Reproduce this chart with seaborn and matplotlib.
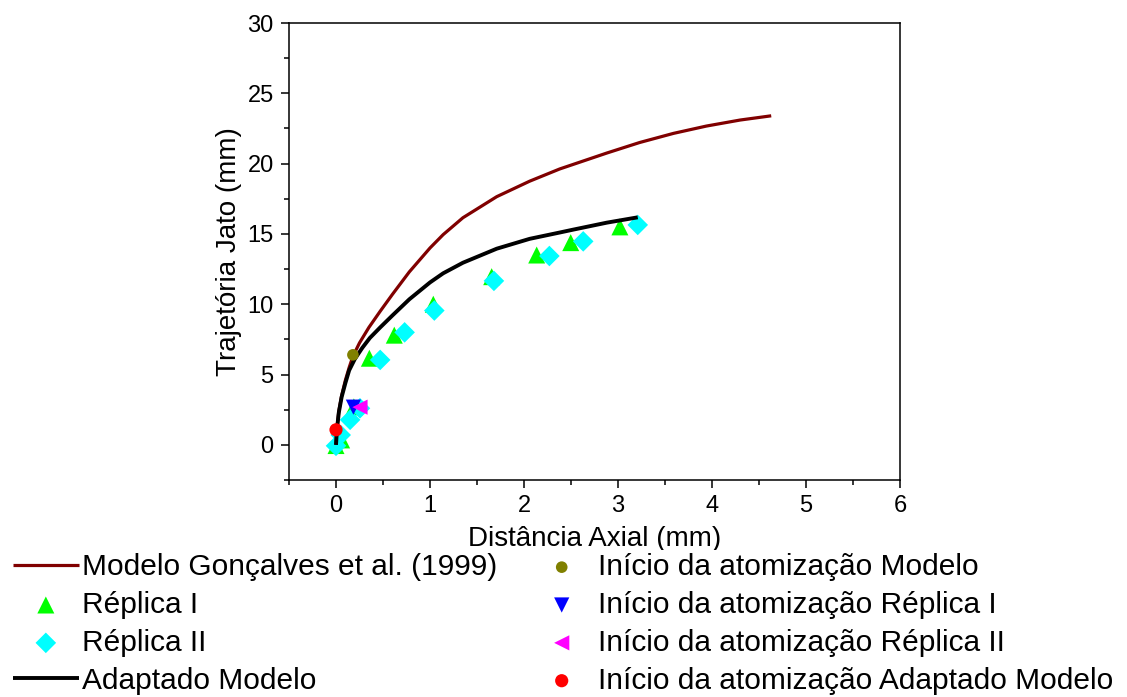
import matplotlib
matplotlib.use("Agg")
import matplotlib.pyplot as plt
from matplotlib.ticker import MultipleLocator
import seaborn as sns

# ---------------- data ----------------
modelo_x = [0.0, 0.01, 0.03, 0.06, 0.1, 0.14, 0.18, 0.25, 0.35, 0.47, 0.6,
            0.78, 1.0, 1.14, 1.35, 1.71, 2.06, 2.38, 2.88, 3.23, 3.59, 3.94,
            4.30, 4.63]
modelo_y = [0.0, 1.2, 2.4, 3.5, 4.6, 5.5, 6.3, 7.25, 8.35, 9.5, 10.7,
            12.3, 14.0, 14.95, 16.15, 17.65, 18.75, 19.62, 20.75, 21.5, 22.15,
            22.67, 23.1, 23.4]

adapt_x = [0.0, 0.01, 0.03, 0.06, 0.1, 0.14, 0.2, 0.28, 0.36, 0.47, 0.6,
           0.78, 1.0, 1.14, 1.35, 1.71, 2.06, 2.38, 2.52, 2.88, 3.21]
adapt_y = [0.0, 1.1, 2.3, 3.4, 4.4, 5.3, 6.1, 6.9, 7.6, 8.35, 9.2,
           10.35, 11.55, 12.2, 12.95, 13.95, 14.65, 15.1, 15.3, 15.8, 16.18]

rep1_x = [0.0, 0.06, 0.19, 0.355, 0.62, 1.035, 1.656, 2.135, 2.497, 3.02]
rep1_y = [-0.05, 0.35, 2.7, 6.16, 7.8, 10.0, 11.96, 13.5, 14.38, 15.5]

rep2_x = [0.0, 0.05, 0.15, 0.255, 0.47, 0.73, 1.046, 1.68, 2.27, 2.63, 3.21]
rep2_y = [-0.07, 0.7, 1.78, 2.6, 6.04, 8.0, 9.55, 11.66, 13.43, 14.47, 15.64]

inicio_modelo_x, inicio_modelo_y = [0.18], [6.4]
inicio_rep1_x, inicio_rep1_y = [0.185], [2.68]
inicio_rep2_x, inicio_rep2_y = [0.255], [2.68]
inicio_adapt_x, inicio_adapt_y = [0.0], [1.07]

labels = ["Modelo Gonçalves et al. (1999)", "Réplica I", "Réplica II",
          "Adaptado Modelo", "Início da atomização Modelo",
          "Início da atomização Réplica I", "Início da atomização Réplica II",
          "Início da atomização Adaptado Modelo"]

# ---------------- style ----------------
sns.set_theme(style="ticks")
plt.rcParams["font.family"] = ["Liberation Sans", "DejaVu Sans"]
plt.rcParams["text.color"] = "black"
plt.rcParams["axes.labelcolor"] = "black"

fig = plt.figure(figsize=(11.27, 6.97), dpi=100)
ax = fig.add_axes([289 / 1127, 1 - 480 / 697, (900 - 289) / 1127, (480 - 23) / 697])

# scatter series
sns.scatterplot(x=rep1_x, y=rep1_y, ax=ax, marker="^", s=150, color="#00FF00",
                edgecolor="none", label=labels[1], zorder=3)
sns.scatterplot(x=rep2_x, y=rep2_y, ax=ax, marker="D", s=110, color="#00FFFF",
                edgecolor="none", label=labels[2], zorder=3)

# lines
sns.lineplot(x=modelo_x, y=modelo_y, ax=ax, sort=False, color="#800000",
             linewidth=2.3, label=labels[0], zorder=4,
             solid_joinstyle="round", solid_capstyle="butt")
sns.lineplot(x=adapt_x, y=adapt_y, ax=ax, sort=False, color="#000000",
             linewidth=2.8, label=labels[3], zorder=4,
             solid_joinstyle="round", solid_capstyle="butt")

# atomization start points
sns.scatterplot(x=inicio_modelo_x, y=inicio_modelo_y, ax=ax, marker="o", s=70,
                color="#808000", edgecolor="none", label=labels[4], zorder=5)
sns.scatterplot(x=inicio_rep1_x, y=inicio_rep1_y, ax=ax, marker="v", s=120,
                color="#0000FF", edgecolor="none", label=labels[5], zorder=5)
sns.scatterplot(x=inicio_rep2_x, y=inicio_rep2_y, ax=ax, marker="<", s=120,
                color="#FF00FF", edgecolor="none", label=labels[6], zorder=6)
sns.scatterplot(x=inicio_adapt_x, y=inicio_adapt_y, ax=ax, marker="o", s=90,
                color="#FF0000", edgecolor="none", label=labels[7], zorder=6)

# axes
ax.set_xlim(-0.5, 6)
ax.set_ylim(-2.5, 30)
ax.xaxis.set_major_locator(MultipleLocator(1))
ax.xaxis.set_minor_locator(MultipleLocator(0.5))
ax.yaxis.set_major_locator(MultipleLocator(5))
ax.yaxis.set_minor_locator(MultipleLocator(2.5))
ax.tick_params(which="major", direction="out", length=6, width=1.1,
               labelsize=17, pad=5, color="black", labelcolor="black")
ax.tick_params(which="minor", direction="out", length=3.5, width=1.1,
               color="black")
ax.tick_params(top=False, right=False, which="both")
for sp in ax.spines.values():
    sp.set_visible(True)
    sp.set_linewidth(1.1)
    sp.set_color("black")
ax.set_xlabel("Distância Axial (mm)", fontsize=20, labelpad=6, color="black")
ax.set_ylabel("Trajetória Jato (mm)", fontsize=20, labelpad=4, color="black")

# legend
handles, labs = ax.get_legend_handles_labels()
hmap = dict(zip(labs, handles))
ax.get_legend().remove()
fig.legend([hmap[l] for l in labels], labels, ncol=2, loc="upper left",
           bbox_to_anchor=(10 / 1127, 1 - 550 / 697), fontsize=21.5,
           frameon=True, facecolor="white", edgecolor="none", framealpha=1,
           fancybox=False, borderpad=0.1, borderaxespad=0.0,
           handlelength=2.2, handletextpad=0.12, columnspacing=1.05,
           labelspacing=0.33, scatterpoints=1, labelcolor="black")

fig.savefig("out.png", dpi=100, facecolor="white")
